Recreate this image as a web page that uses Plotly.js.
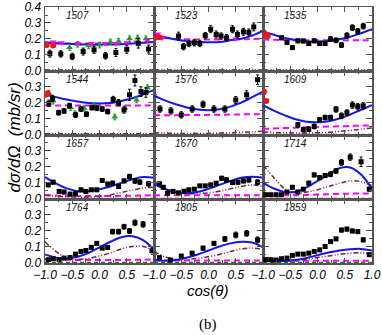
<!DOCTYPE html>
<html>
<head>
<meta charset="utf-8">
<script src="https://cdn.plot.ly/plotly-3.0.1.min.js"></script>
<style>body{margin:0;background:#fff}#plot{width:382px;height:335px}</style>
</head>
<body>
<div id="plot"></div>
<script>
// panel energies, left to right, top to bottom
var energies = ["1507","1523","1535","1544","1576","1609","1657","1670","1714","1764","1805","1859"];

var curveCos = [-1, -0.8, -0.6, -0.4, -0.2, 0, 0.2, 0.4, 0.6, 0.8, 1];

// ---- 1507
var cos1507 = [-0.91,-0.71,-0.5,-0.3,-0.1,0.11,0.3,0.5,0.71,0.9];
var dsg1507 = [0.106,0.104,0.088,0.119,0.13,0.092,0.113,0.133,0.171,0.135];
var err1507 = [0.022,0.02,0.02,0.022,0.022,0.02,0.025,0.025,0.03,0.025];
var grnCos1507 = [-0.55,-0.4,-0.2,0.0,0.2,0.35,0.55,0.7,0.85];
var grnDsg1507 = [0.145,0.165,0.155,0.16,0.18,0.185,0.2,0.205,0.2];
var magCos1507 = [-0.85,-0.7,-0.4,-0.15,0.1,0.3,0.5,0.68,0.88];
var magDsg1507 = [0.18,0.175,0.17,0.17,0.17,0.17,0.175,0.18,0.19];
var redCos1507 = [-0.97,-0.85];
var redDsg1507 = [0.16,0.157];
var blue1507 = [0.178,0.172,0.168,0.165,0.163,0.163,0.164,0.166,0.17,0.175,0.18];
var pink1507 = [0.175,0.172,0.17,0.17,0.17,0.17,0.17,0.172,0.175,0.178,0.18];
var wine1507 = [0.003,0.003,0.003,0.003,0.003,0.003,0.003,0.003,0.003,0.003,0.003];

// ---- 1523
var cos1523 = [-0.55,-0.46,-0.36,-0.26,-0.16,-0.06,0.04,0.14,0.23,0.33,0.44,0.53,0.64,0.74,0.83];
var dsg1523 = [0.217,0.15,0.17,0.175,0.17,0.22,0.26,0.227,0.217,0.206,0.26,0.227,0.244,0.24,0.275];
var err1523 = [0.025,0.02,0.02,0.02,0.02,0.02,0.022,0.022,0.02,0.02,0.022,0.022,0.022,0.022,0.025];
var magCos1523 = [-0.93,-0.85,0.5];
var magDsg1523 = [0.23,0.205,0.2];
var redCos1523 = [-0.98,-0.9];
var redDsg1523 = [0.206,0.21];
var blue1523 = [0.225,0.21,0.195,0.185,0.18,0.178,0.18,0.19,0.2,0.22,0.25];
var pink1523 = [0.21,0.205,0.2,0.197,0.195,0.195,0.195,0.196,0.197,0.198,0.2];
var wine1523 = [0.003,0.003,0.003,0.003,0.003,0.003,0.003,0.003,0.003,0.003,0.003];

// ---- 1535
var cos1535 = [-0.66,-0.56,-0.46,-0.36,-0.26,-0.16,-0.06,0.04,0.14,0.24,0.34,0.44,0.54,0.64,0.74,0.84];
var dsg1535 = [0.206,0.177,0.144,0.187,0.186,0.17,0.187,0.17,0.17,0.198,0.19,0.16,0.22,0.27,0.247,0.28];
var err1535 = [0.012,0.012,0.012,0.012,0.012,0.012,0.012,0.012,0.012,0.015,0.015,0.015,0.018,0.018,0.018,0.018];
var redCos1535 = [-0.96,-0.91];
var redDsg1535 = [0.23,0.217];
var blue1535 = [0.245,0.225,0.205,0.192,0.185,0.183,0.187,0.197,0.213,0.235,0.26];
var pink1535 = [0.195,0.193,0.192,0.19,0.19,0.19,0.19,0.19,0.19,0.19,0.19];
var wine1535 = [0.003,0.003,0.003,0.003,0.003,0.003,0.003,0.003,0.003,0.003,0.003];

// ---- 1544
var cos1544 = [-0.93,-0.86,-0.75,-0.65,-0.55,-0.44,-0.34,-0.24,-0.14,-0.05,0.05,0.15,0.25,0.35,0.45,0.55,0.65,0.76,0.85];
var dsg1544 = [0.196,0.227,0.137,0.148,0.181,0.123,0.16,0.127,0.169,0.165,0.16,0.144,0.22,0.2,0.154,0.25,0.34,0.27,0.264];
var err1544 = [0.02,0.02,0.015,0.015,0.015,0.015,0.015,0.015,0.015,0.015,0.015,0.015,0.02,0.02,0.02,0.035,0.035,0.03,0.03];
var grnCos1544 = [-0.93,-0.85,-0.53,-0.45,-0.28,-0.1,0.28,0.47,0.68,0.88];
var grnDsg1544 = [0.26,0.21,0.17,0.13,0.165,0.18,0.11,0.165,0.217,0.295];
var redCos1544 = [-0.99,-0.95];
var redDsg1544 = [0.25,0.26];
var blue1544 = [0.25,0.235,0.22,0.207,0.198,0.195,0.198,0.21,0.228,0.252,0.28];
var pink1544 = [0.182,0.182,0.182,0.182,0.182,0.182,0.182,0.182,0.182,0.182,0.182];
var wine1544 = [0.004,0.004,0.004,0.004,0.004,0.004,0.004,0.004,0.004,0.004,0.004];

// ---- 1576
var cos1576 = [-0.89,-0.69,-0.5,-0.3,-0.1,0.1,0.3,0.5,0.7,0.9];
var dsg1576 = [0.16,0.148,0.123,0.16,0.19,0.16,0.16,0.217,0.25,0.345];
var err1576 = [0.02,0.02,0.02,0.02,0.02,0.02,0.02,0.022,0.025,0.03];
var blue1576 = [0.245,0.215,0.19,0.17,0.157,0.153,0.158,0.175,0.2,0.235,0.27];
var pink1576 = [0.12,0.12,0.12,0.122,0.122,0.123,0.124,0.125,0.126,0.127,0.128];
var wine1576 = [0.01,0.008,0.006,0.005,0.005,0.006,0.008,0.01,0.013,0.016,0.02];

// ---- 1609
var cos1609 = [-0.36,-0.26,-0.16,-0.06,0.04,0.14,0.24,0.34,0.44,0.54,0.64,0.74,0.84];
var dsg1609 = [0.06,0.03,0.033,0.05,0.092,0.106,0.106,0.158,0.117,0.137,0.185,0.175,0.18];
var err1609 = [0.015,0.015,0.015,0.015,0.015,0.015,0.015,0.018,0.018,0.018,0.02,0.02,0.02];
var redCos1609 = [-0.98,-0.94];
var redDsg1609 = [0.27,0.21];
var blue1609 = [0.185,0.15,0.12,0.095,0.08,0.077,0.083,0.1,0.125,0.155,0.185];
var pink1609 = [0.035,0.037,0.04,0.042,0.045,0.047,0.049,0.051,0.053,0.055,0.057];
var wine1609 = [0.015,0.012,0.01,0.008,0.008,0.01,0.013,0.018,0.025,0.033,0.04];

// ---- 1657
var cos1657 = [-0.94,-0.85,-0.74,-0.65,-0.54,-0.44,-0.34,-0.25,-0.15,-0.05,0.05,0.15,0.24,0.35,0.45,0.55,0.65,0.74,0.9];
var dsg1657 = [0.085,0.102,0.044,0.04,0.027,0.029,0.054,0.044,0.054,0.054,0.113,0.09,0.096,0.075,0.11,0.137,0.11,0.102,0.092];
var err1657 = [0.012,0.012,0.01,0.01,0.01,0.01,0.01,0.01,0.01,0.01,0.012,0.012,0.012,0.012,0.012,0.015,0.015,0.015,0.015];
var blue1657 = [0.135,0.095,0.063,0.045,0.045,0.057,0.075,0.098,0.12,0.135,0.13];
var pink1657 = [0.02,0.018,0.016,0.015,0.015,0.015,0.015,0.016,0.017,0.018,0.02];
var wine1657 = [0.02,0.015,0.01,0.008,0.008,0.012,0.022,0.037,0.052,0.065,0.07];

// ---- 1670
var cos1670 = [-0.9,-0.83,-0.75,-0.65,-0.55,-0.45,-0.36,-0.26,-0.16,-0.06,0.04,0.14,0.24,0.33,0.44,0.54,0.64,0.74,0.9];
var dsg1670 = [0.092,0.07,0.033,0.044,0.035,0.045,0.054,0.058,0.079,0.079,0.085,0.096,0.127,0.117,0.1,0.102,0.11,0.117,0.102];
var err1670 = [0.01,0.01,0.008,0.008,0.008,0.008,0.008,0.008,0.008,0.008,0.01,0.01,0.012,0.012,0.012,0.012,0.012,0.015,0.015];
var blue1670 = [0.09,0.06,0.04,0.032,0.04,0.06,0.085,0.11,0.13,0.137,0.13];
var pink1670 = [0.02,0.02,0.02,0.02,0.02,0.02,0.02,0.02,0.02,0.02,0.02];
var wine1670 = [0.11,0.06,0.035,0.03,0.03,0.035,0.045,0.06,0.075,0.085,0.075];

// ---- 1714
var cos1714 = [-0.95,-0.86,-0.76,-0.66,-0.56,-0.46,-0.36,-0.26,-0.16,-0.06,0.04,0.14,0.24,0.34,0.44,0.6,0.8,0.95];
var dsg1714 = [0.023,0.023,0.023,0.023,0.04,0.07,0.04,0.058,0.096,0.148,0.131,0.144,0.152,0.173,0.227,0.26,0.231,0.058];
var err1714 = [0.006,0.006,0.006,0.006,0.008,0.01,0.01,0.01,0.012,0.012,0.012,0.012,0.015,0.015,0.018,0.02,0.03,0.012];
var blue1714 = [0.1,0.062,0.04,0.042,0.07,0.11,0.15,0.19,0.195,0.15,0.06];
var pink1714 = [0.02,0.02,0.02,0.02,0.022,0.024,0.026,0.028,0.03,0.03,0.03];
var wine1714 = [0.21,0.13,0.06,0.035,0.04,0.055,0.075,0.095,0.11,0.105,0.08];

// ---- 1764
var cos1764 = [-0.94,-0.85,-0.74,-0.65,-0.54,-0.44,-0.34,-0.25,-0.15,-0.05,0.05,0.15,0.24,0.35,0.45,0.55,0.65,0.8,0.96];
var dsg1764 = [0.017,0.023,0.017,0.027,0.031,0.052,0.069,0.075,0.095,0.12,0.09,0.094,0.194,0.194,0.225,0.198,0.25,0.24,0.073];
var err1764 = [0.005,0.005,0.005,0.006,0.006,0.008,0.008,0.008,0.01,0.01,0.01,0.01,0.015,0.015,0.015,0.015,0.018,0.018,0.012];
var blue1764 = [0.05,0.03,0.025,0.035,0.06,0.095,0.13,0.158,0.165,0.14,0.08];
var pink1764 = [0.02,0.018,0.016,0.015,0.015,0.015,0.015,0.015,0.016,0.017,0.018];
var wine1764 = [0.13,0.07,0.03,0.02,0.025,0.04,0.06,0.085,0.1,0.1,0.075];

// ---- 1805
var cos1805 = [-0.9,-0.7,-0.5,-0.3,-0.1,0.1,0.3,0.5,0.7,0.9];
var dsg1805 = [0.03,0.015,0.04,0.058,0.09,0.12,0.148,0.173,0.183,0.142];
var err1805 = [0.006,0.006,0.008,0.01,0.012,0.012,0.015,0.018,0.018,0.018];
var blue1805 = [0.015,0.01,0.015,0.03,0.05,0.075,0.1,0.12,0.13,0.125,0.095];
var pink1805 = [0.012,0.012,0.012,0.012,0.012,0.012,0.012,0.012,0.012,0.012,0.012];
var wine1805 = [0.07,0.035,0.02,0.018,0.025,0.035,0.05,0.068,0.085,0.09,0.08];

// ---- 1859
var cos1859 = [-0.95,-0.86,-0.76,-0.66,-0.56,-0.46,-0.36,-0.26,-0.16,-0.06,0.04,0.14,0.24,0.34,0.44,0.54,0.64,0.74,0.84,0.95];
var dsg1859 = [0.017,0.017,0.015,0.023,0.027,0.044,0.052,0.052,0.058,0.069,0.079,0.1,0.131,0.148,0.204,0.21,0.198,0.194,0.142,0.048];
var err1859 = [0.004,0.004,0.004,0.005,0.005,0.006,0.006,0.006,0.006,0.006,0.008,0.008,0.01,0.01,0.012,0.012,0.012,0.012,0.012,0.01];
var blue1859 = [0.01,0.007,0.008,0.015,0.028,0.045,0.062,0.075,0.083,0.085,0.075];
var pink1859 = [0.01,0.01,0.01,0.01,0.01,0.01,0.01,0.01,0.01,0.01,0.01];
var wine1859 = [0.03,0.02,0.015,0.015,0.02,0.03,0.04,0.05,0.058,0.06,0.055];

var zeroLine = [0,0,0,0,0,0,0,0,0,0,0];

// y tick positions (top row also shows 0.4)
var yTicksTop = [0, 0.1, 0.2, 0.3, 0.4];
var yTicks = [0, 0.1, 0.2, 0.3];

// collect per panel
var blackCos = [cos1507,cos1523,cos1535,cos1544,cos1576,cos1609,cos1657,cos1670,cos1714,cos1764,cos1805,cos1859];
var blackDsg = [dsg1507,dsg1523,dsg1535,dsg1544,dsg1576,dsg1609,dsg1657,dsg1670,dsg1714,dsg1764,dsg1805,dsg1859];
var blackErr = [err1507,err1523,err1535,err1544,err1576,err1609,err1657,err1670,err1714,err1764,err1805,err1859];
var blueCurves = [blue1507,blue1523,blue1535,blue1544,blue1576,blue1609,blue1657,blue1670,blue1714,blue1764,blue1805,blue1859];
var pinkCurves = [pink1507,pink1523,pink1535,pink1544,pink1576,pink1609,pink1657,pink1670,pink1714,pink1764,pink1805,pink1859];
var wineCurves = [wine1507,wine1523,wine1535,wine1544,wine1576,wine1609,wine1657,wine1670,wine1714,wine1764,wine1805,wine1859];
var greenSets = {0: [grnCos1507, grnDsg1507], 3: [grnCos1544, grnDsg1544]};
var magSets = {0: [magCos1507, magDsg1507], 1: [magCos1523, magDsg1523]};
var redSets = {0: [redCos1507, redDsg1507], 1: [redCos1523, redDsg1523], 2: [redCos1535, redDsg1535],
               3: [redCos1544, redDsg1544], 5: [redCos1609, redDsg1609]};

var data = [];
var layout = {
  width: 382, height: 335,
  margin: {l: 45, r: 10, t: 7, b: 72},
  paper_bgcolor: "#fff", plot_bgcolor: "#fff",
  showlegend: false,
  annotations: []
};

var tickFont = {family: "Liberation Sans, Arial, sans-serif", size: 12, style: "italic", color: "#000"};
var axisColor = "#555";

for (var i = 0; i < 12; i++) {
  var r = Math.floor(i / 3), c = i % 3;
  var n = i + 1;
  var xa = "x" + (n > 1 ? n : ""), ya = "y" + (n > 1 ? n : "");

  // model curves
  data.push({x: curveCos, y: zeroLine, xaxis: xa, yaxis: ya, mode: "lines",
             line: {color: "#e00000", width: 1, dash: "4px,3px"}, hoverinfo: "skip"});
  data.push({x: curveCos, y: zeroLine, xaxis: xa, yaxis: ya, mode: "lines",
             line: {color: "#008a00", width: 1, dash: "4px,3px"}, hoverinfo: "skip"});
  data.push({x: curveCos, y: pinkCurves[i], xaxis: xa, yaxis: ya, mode: "lines",
             line: {color: "#ff00ff", width: 2, dash: "6px,4px", shape: "spline"}});
  data.push({x: curveCos, y: wineCurves[i], xaxis: xa, yaxis: ya, mode: "lines",
             line: {color: "#7b1f45", width: 1.5, dash: "5px,2px,1px,2px,1px,2px", shape: "spline"}});
  data.push({x: curveCos, y: blueCurves[i], xaxis: xa, yaxis: ya, mode: "lines",
             line: {color: "#1515ee", width: 2, shape: "spline"}});

  // other data sets
  if (greenSets[i]) {
    data.push({x: greenSets[i][0], y: greenSets[i][1], xaxis: xa, yaxis: ya, mode: "markers",
               marker: {symbol: "triangle-up", size: 6, color: "#1f9a1f"},
               error_y: {type: "constant", value: 0.018, color: "#1f9a1f", thickness: 1, width: 1.5}});
  }
  if (magSets[i]) {
    data.push({x: magSets[i][0], y: magSets[i][1], xaxis: xa, yaxis: ya, mode: "markers",
               marker: {symbol: "triangle-down", size: 6, color: "#ff00ff"}});
  }
  if (redSets[i]) {
    data.push({x: redSets[i][0], y: redSets[i][1], xaxis: xa, yaxis: ya, mode: "markers",
               marker: {symbol: "circle", size: 6, color: "#ff1010"}});
  }
  data.push({x: blackCos[i], y: blackDsg[i], xaxis: xa, yaxis: ya, mode: "markers",
             marker: {symbol: "square", size: 5, color: "#000"},
             error_y: {type: "data", array: blackErr[i], color: "#000", thickness: 1, width: 1.5}});

  var xKey = "xaxis" + (n > 1 ? n : ""), yKey = "yaxis" + (n > 1 ? n : "");
  layout[xKey] = {
    domain: [c / 3, (c + 1) / 3], anchor: ya,
    range: c === 2 ? [-1, 1.0005] : [-1, 0.9995],
    dtick: 0.5, tick0: -1, tickformat: ".1f",
    ticks: "inside", ticklen: 5, tickcolor: axisColor,
    minor: {dtick: 0.25, ticklen: 3, ticks: "inside", tickcolor: axisColor},
    showline: true, linecolor: axisColor, linewidth: 1.5, mirror: "ticks",
    showgrid: false, zeroline: false,
    showticklabels: r === 3, tickfont: tickFont
  };
  layout[yKey] = {
    domain: [(3 - r) / 4, (4 - r) / 4], anchor: xa,
    range: r === 0 ? [-0.004, 0.401] : [-0.004, 0.4],
    tickmode: "array", tickvals: r === 0 ? yTicksTop : yTicks, tickformat: ".1f",
    ticks: "inside", ticklen: 6, tickcolor: axisColor,
    minor: {tickmode: "linear", tick0: 0, dtick: 0.05, ticklen: 3, ticks: "inside", tickcolor: axisColor},
    showline: true, linecolor: axisColor, linewidth: 1.5, mirror: "ticks",
    showgrid: false, zeroline: false,
    ticklabeloverflow: "allow",
    showticklabels: c === 0, tickfont: tickFont
  };

  layout.annotations.push({
    xref: xa + " domain", yref: ya + " domain", x: 0.17, y: 0.87,
    xanchor: "left", yanchor: "middle", showarrow: false, text: energies[i],
    font: {family: "Liberation Sans, Arial, sans-serif", size: 10, style: "italic", color: "#111"}
  });
}

// axis titles
layout.annotations.push({
  xref: "paper", yref: "paper", x: -0.092, y: 0.49, textangle: -90,
  xanchor: "center", yanchor: "middle",
  showarrow: false, text: "dσ/dΩ  (mb/sr)",
  font: {family: "Liberation Sans, Arial, sans-serif", size: 17, style: "italic", color: "#000"}
});
layout.annotations.push({
  xref: "paper", yref: "paper", x: 0.498, y: -0.107,
  xanchor: "center", yanchor: "middle",
  showarrow: false, text: "cos(θ)",
  font: {family: "Liberation Sans, Arial, sans-serif", size: 15, style: "italic", color: "#000"}
});
layout.annotations.push({
  xref: "paper", yref: "paper", x: 0.498, y: -0.24,
  xanchor: "center", yanchor: "middle",
  showarrow: false, text: "(b)",
  font: {family: "Liberation Serif, Times New Roman, serif", size: 15, color: "#000"}
});

Plotly.newPlot("plot", data, layout, {displayModeBar: false, staticPlot: true});
</script>
</body>
</html>
